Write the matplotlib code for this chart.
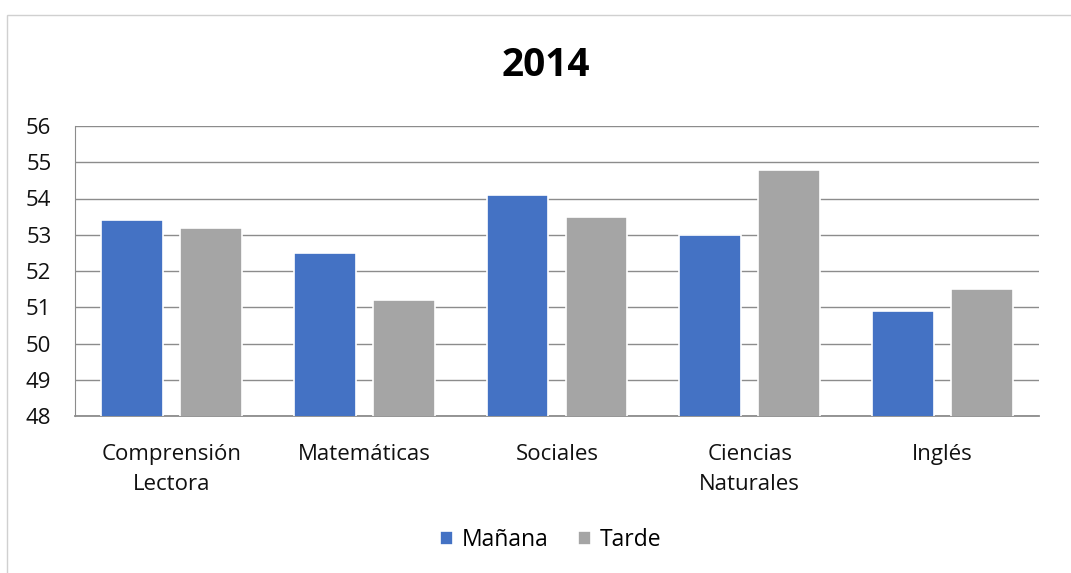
import matplotlib
matplotlib.use("Agg")
import matplotlib.pyplot as plt
import numpy as np
from matplotlib.patches import Rectangle

plt.rcParams['font.family'] = ['Open Sans', 'DejaVu Sans']

categories = ["Comprensión\nLectora", "Matemáticas", "Sociales", "Ciencias\nNaturales", "Inglés"]
manana = [53.4, 52.5, 54.1, 53.0, 50.9]
tarde = [53.2, 51.2, 53.5, 54.8, 51.5]
series_names = ["Mañana", "Tarde"]
COLORS = ["#4472C4", "#A5A5A5"]

W, H = 1071, 573
fig = plt.figure(figsize=(W / 100, H / 100), dpi=100)
ax = fig.add_axes([75 / W, 1 - 416 / H, (1039 - 75) / W, (416 - 126) / H])

# chart frame (cropped at right/bottom in the original)
fig.patches.append(Rectangle((7 / W, -0.01), 1.2, 1 - 15 / H + 0.01, transform=fig.transFigure,
                             fill=False, edgecolor="#D0D0D0", linewidth=1))

x = np.arange(len(categories))
width = 0.32
offset = 0.205
ax.bar(x - offset, manana, width, color=COLORS[0], edgecolor="white", linewidth=1.2,
       label=series_names[0], zorder=3)
ax.bar(x + offset, tarde, width, color=COLORS[1], edgecolor="white", linewidth=1.2,
       label=series_names[1], zorder=3)

ax.set_ylim(48, 56)
ax.set_xlim(-0.5, len(categories) - 0.5)
ax.set_yticks(range(48, 57))
ax.yaxis.grid(True, color="#8C8C8C", linewidth=1, zorder=0)
ax.set_axisbelow(True)
for side in ["top", "right"]:
    ax.spines[side].set_visible(False)
ax.spines["left"].set_color("#8C8C8C")
ax.spines["bottom"].set_color("#8C8C8C")
ax.spines["bottom"].set_linewidth(1.3)
ax.tick_params(axis="both", length=0, labelsize=16, colors="#111111")
ax.tick_params(axis="y", pad=17)
ax.tick_params(axis="x", pad=20)
ax.set_xticks(x)
ax.set_xticklabels(categories, linespacing=1.55)

fig.text(546 / W, 1 - 65 / H, "2014", ha="center", va="center", fontsize=28, fontweight="bold")

fig.legend(loc="center", bbox_to_anchor=(551 / W, 1 - 540 / H), ncol=2, frameon=False,
           fontsize=16.5, handlelength=0.55, handleheight=0.55, handletextpad=0.4, columnspacing=1.3)

fig.savefig("out.png", dpi=100)
